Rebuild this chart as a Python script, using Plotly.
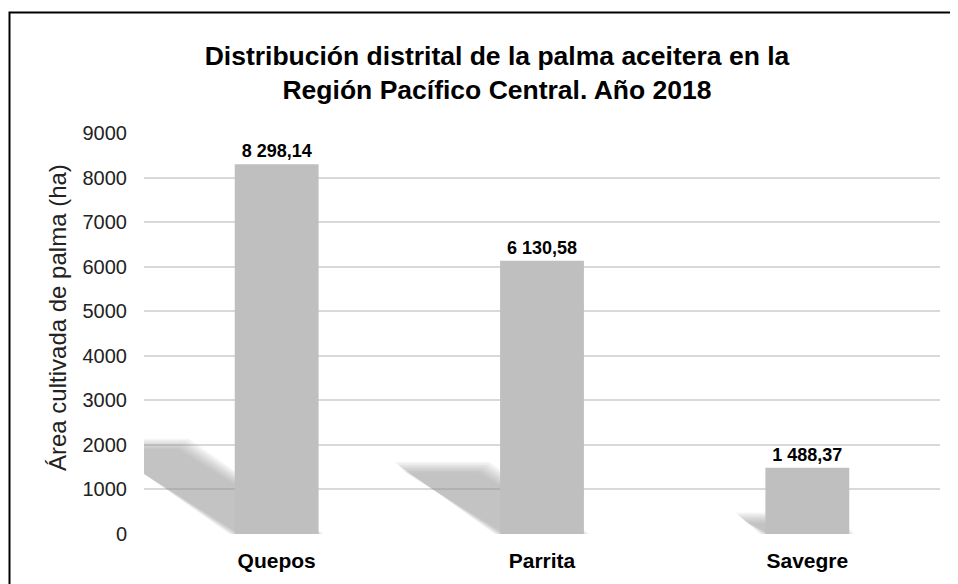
import plotly.graph_objects as go

# ---- data ----
districts = ["Quepos", "Parrita", "Savegre"]
area_ha = [8298.14, 6130.58, 1488.37]
y_ticks = [0, 1000, 2000, 3000, 4000, 5000, 6000, 7000, 8000, 9000]

title_text = "<b>Distribución distrital de la palma aceitera en la<br>Región Pacífico Central. Año 2018</b>"
y_title = "Área cultivada de palma (ha)"

# ---- style ----
FONT = "Arial, Liberation Sans, sans-serif"
BAR_COLOR = "#BFBFBF"
GRID_COLOR = "#D9D9D9"
BAR_W = 0.316
SHADOW_K = 6.14e-5   # horizontal skew (category units per ha)
SHADOW_S = 0.243     # vertical squash of the projected bar

W, H = 950, 576            # page body adds 8px offset
L, R, T, B = 136, 18, 125, 50
PW, PH = W - L - R, H - T - B
YMAX = 9000
PX_X = 3.0 / PW            # category units per px
PX_Y = YMAX / PH           # ha per px

xpos = list(range(len(districts)))

shapes = []
# soft perspective shadows: projected bar (parallelogram), layered for blur
for c, v in zip(xpos, area_ha):
    x0, x1 = c - BAR_W / 2, c + BAR_W / 2
    for d in [5.5, 4, 2.5, 1, -0.5, -2, -3.5, -5]:
        dx, dy = d * PX_X, d * PX_Y
        pts = [
            (x0 - dx, 0),
            (x0 - SHADOW_K * v - dx, SHADOW_S * v + dy),
            (x1 - SHADOW_K * v + dx, SHADOW_S * v + dy),
            (x1 + dx, 0),
        ]
        path = "M " + " L ".join(f"{px},{py}" for px, py in pts) + " Z"
        shapes.append(dict(type="path", xref="x", yref="y", path=path,
                           fillcolor="rgb(150,150,150)", opacity=0.095,
                           line=dict(width=0), layer="between"))

# outer chart border
shapes.append(dict(type="rect", xref="paper", yref="paper",
                   x0=(1.5 - L) / PW, x1=1.3,
                   y0=-0.5, y1=1 + (T - 4.5) / PH,
                   line=dict(color="black", width=2), layer="above"))

fig = go.Figure()
fig.add_trace(go.Bar(
    x=xpos, y=area_ha, width=BAR_W,
    marker=dict(color=BAR_COLOR, line=dict(width=0)),
    texttemplate="<b>%{y:,.2f}</b>", textposition="outside",
    textfont=dict(family=FONT, size=18, color="black"),
    cliponaxis=False, showlegend=False,
))

fig.update_layout(
    width=W, height=H,
    margin=dict(l=L, r=R, t=T, b=B),
    paper_bgcolor="white", plot_bgcolor="white",
    separators=", ",
    font=dict(family=FONT, color="black"),
    title=dict(text=title_text, x=489 / W, xanchor="center",
               y=1 - 56.5 / H, yanchor="middle",
               font=dict(family=FONT, size=26.5, color="black")),
    xaxis=dict(range=[-0.5, 2.5], tickvals=xpos,
               ticktext=[f"<b>{d}</b>" for d in districts],
               showgrid=False, zeroline=False, showline=False,
               tickfont=dict(family=FONT, size=21, color="black"),
               ticklabelstandoff=12),
    yaxis=dict(range=[0, YMAX], tickvals=y_ticks, tickformat="d",
               showgrid=True, gridcolor=GRID_COLOR, gridwidth=1.5,
               zeroline=False, showline=False,
               tickfont=dict(family=FONT, size=20, color="#222"),
               ticklabelstandoff=16),
    annotations=[dict(text=y_title, textangle=-90, showarrow=False,
                      xref="paper", yref="paper",
                      x=(57 - 8 - L) / PW, y=(534 - 318) / PH,
                      xanchor="center", yanchor="middle",
                      font=dict(family=FONT, size=24, color="#222"))],
    shapes=shapes,
)

fig.write_html("out.html")
